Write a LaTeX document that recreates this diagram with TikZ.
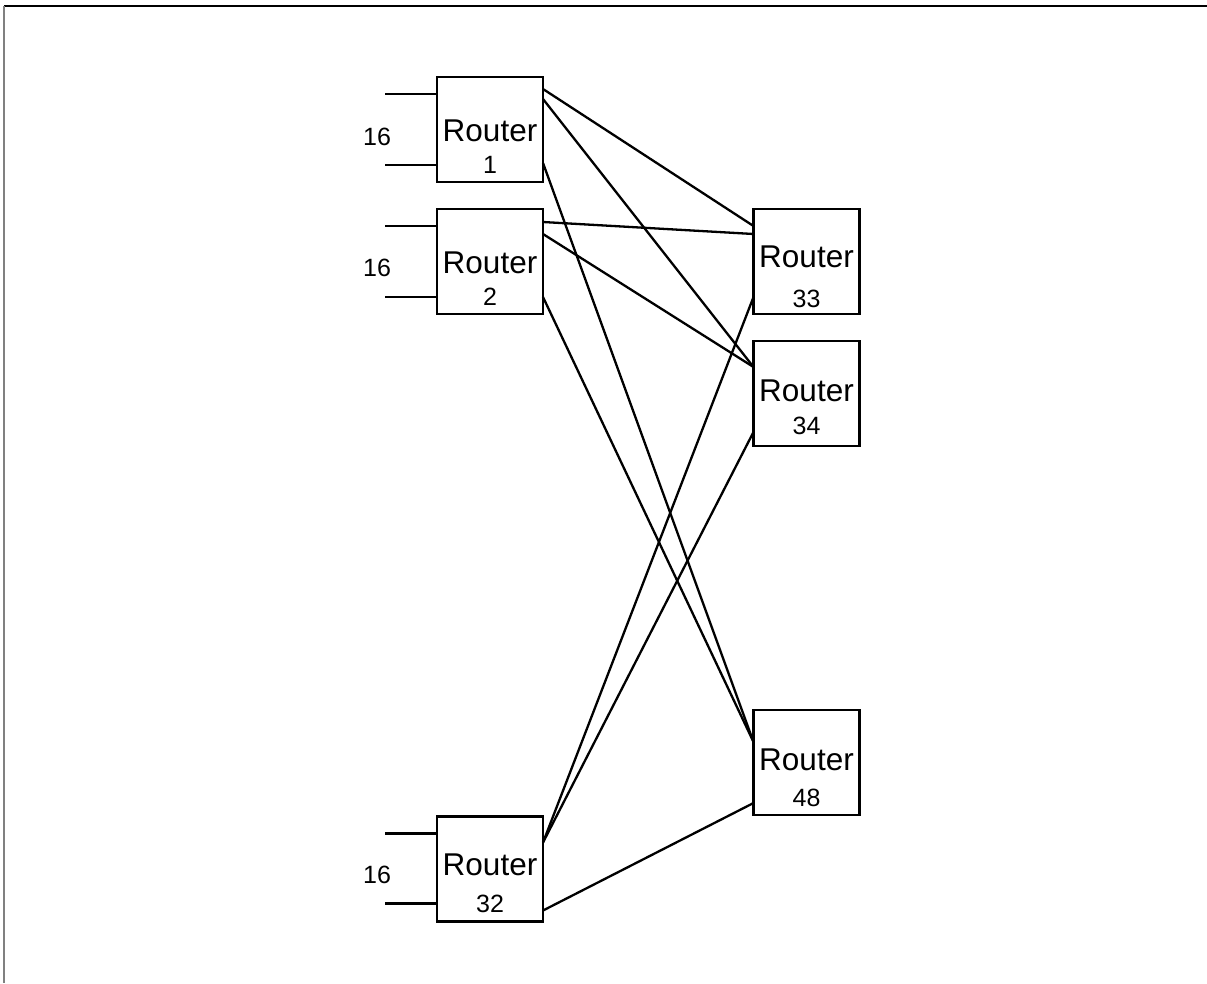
\documentclass[tikz,border=0pt]{standalone}
\usepackage{fontspec}
\setmainfont{Liberation Sans}
\begin{document}
\begin{tikzpicture}[x=1pt,y=-1pt,
  router/.style={draw,line width=2.3pt,minimum width=106pt,minimum height=105pt,inner sep=0pt,outer sep=0pt},
  rname/.style={anchor=base,inner sep=0pt,font=\fontsize{31.5}{31.5}\selectfont},
  rnum/.style={anchor=base,inner sep=0pt,font=\fontsize{25}{25}\selectfont},
  cnt/.style={inner sep=0pt,font=\fontsize{25}{25}\selectfont},
  link/.style={line width=2.3pt},
  port/.style={line width=2.3pt}]
\useasboundingbox (0,0) rectangle (1207,983);
\draw[line width=1.5pt] (4,6) -- (1207,6);
\draw[line width=1.5pt,gray] (4,6) -- (4,983);

\node[router] (r1) at (490,129.5) {};
\node[router] (r2) at (490,261.5) {};
\node[router] (r32) at (490,869) {};
\node[router] (r33) at (806.5,261.5) {};
\node[router] (r34) at (806.5,393.5) {};
\node[router] (r48) at (806.5,762.5) {};

\node[rname] (t1) at ([yshift=-64pt]r1.north) {Router};
\node[rnum] (n1) at ([yshift=-96pt]r1.north) {1};
\node[rname] (t2) at ([yshift=-64pt]r2.north) {Router};
\node[rnum] (n2) at ([yshift=-96pt]r2.north) {2};
\node[rname] (t32) at ([yshift=-59pt]r32.north) {Router};
\node[rnum] (n32) at ([yshift=-96pt]r32.north) {32};
\node[rname] (t33) at ([yshift=-58pt]r33.north) {Router};
\node[rnum] (n33) at ([yshift=-98pt]r33.north) {33};
\node[rname] (t34) at ([yshift=-60pt]r34.north) {Router};
\node[rnum] (n34) at ([yshift=-93pt]r34.north) {34};
\node[rname] (t48) at ([yshift=-60pt]r48.north) {Router};
\node[rnum] (n48) at ([yshift=-96pt]r48.north) {48};

% input ports
\draw[port] ([yshift=-17pt]r1.north west) -- ++(-52,0);
\draw[port] ([yshift=-88pt]r1.north west) -- ++(-52,0);
\draw[port] ([yshift=-17pt]r2.north west) -- ++(-52,0);
\draw[port] ([yshift=-88pt]r2.north west) -- ++(-52,0);
\draw[port] ([yshift=-17pt]r32.north west) -- ++(-52,0);
\draw[port] ([yshift=-87pt]r32.north west) -- ++(-52,0);
\node[cnt] (c1) at (377,137) {16};
\node[cnt] (c2) at (377,268) {16};
\node[cnt] (c32) at (377,875) {16};

% links
\draw[link] ([yshift=-12pt]r1.north east) -- ([yshift=-17pt]r33.north west);
\draw[link] ([yshift=-22pt]r1.north east) -- ([yshift=-26pt]r34.north west);
\draw[link] ([yshift=-86pt]r1.north east) -- ([yshift=-32pt]r48.north west);
\draw[link] ([yshift=-13pt]r2.north east) -- ([yshift=-25pt]r33.north west);
\draw[link] ([yshift=-25pt]r2.north east) -- ([yshift=-26pt]r34.north west);
\draw[link] ([yshift=-88pt]r2.north east) -- ([yshift=-32pt]r48.north west);
\draw[link] ([yshift=-26pt]r32.north east) -- ([yshift=-88pt]r33.north west);
\draw[link] ([yshift=-26pt]r32.north east) -- ([yshift=-91pt]r34.north west);
\draw[link] ([yshift=-94pt]r32.north east) -- ([yshift=-93pt]r48.north west);
\end{tikzpicture}
\end{document}
